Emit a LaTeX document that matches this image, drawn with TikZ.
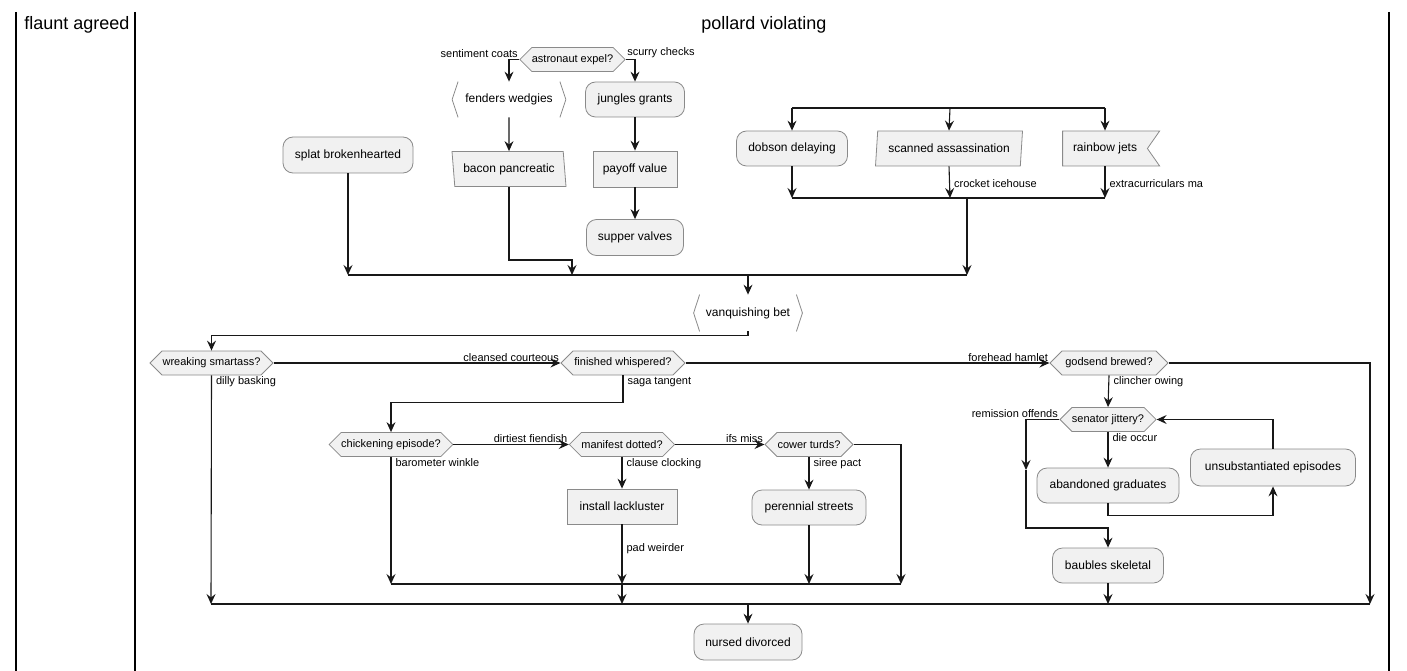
\documentclass[tikz,border=0pt]{standalone}
\usepackage{fontspec}
\setmainfont{Liberation Sans}
\usetikzlibrary{arrows.meta,shapes.geometric,shapes.symbols}
\definecolor{actfill}{HTML}{F1F1F1}
\definecolor{actline}{HTML}{8A8A8A}
\definecolor{flowcol}{HTML}{181818}

\tikzset{
  flow/.style={draw=flowcol, line width=1.1pt, -{Stealth[length=10pt,width=9pt,inset=3.5pt]}},
  bar/.style={draw=flowcol, line width=1.1pt},
  lane/.style={draw=black, line width=1.5pt},
  lanetitle/.style={font=\fontsize{18}{21}\selectfont},
  act/.style={draw=actline, fill=actfill, line width=0.8pt, rounded corners=10pt,
    minimum height=36pt, inner sep=0pt, font=\fontsize{12}{14}\selectfont},
  actrect/.style={act, rounded corners=0pt},
  actslant/.style={act, rounded corners=0pt, trapezium, trapezium stretches body},
  actnotch/.style={act, rounded corners=0pt, signal, signal to=nowhere,
    signal from=east, signal pointer angle=110},
  actif/.style={act, rounded corners=0pt, signal, signal to=east and west,
    signal pointer angle=90, minimum height=24pt, font=\fontsize{11}{13}\selectfont},
  bracketline/.style={draw=actline, line width=0.8pt},
  actbracket/.style={act, draw=none, fill=none,
    append after command={
      ([xshift=6pt]\tikzlastnode.north west) edge[bracketline] (\tikzlastnode.west)
      (\tikzlastnode.west) edge[bracketline] ([xshift=6pt]\tikzlastnode.south west)
      ([xshift=-6pt]\tikzlastnode.north east) edge[bracketline] (\tikzlastnode.east)
      (\tikzlastnode.east) edge[bracketline] ([xshift=-6pt]\tikzlastnode.south east)}},
  lbl/.style={font=\fontsize{11}{13}\selectfont, inner sep=1pt},
  lbldown/.style={lbl, pos=0, anchor=north west, xshift=3pt},
  lblright/.style={lbl, anchor=west, xshift=3pt},
  lblbefore/.style={lbl, pos=1, anchor=south east},
}

\begin{document}
\begin{tikzpicture}[x=1pt,y=-1pt]
  \useasboundingbox (0,0) rectangle (1407,671);

  % Corsie
  \draw[lane] (16,12) -- (16,671);
  \draw[lane] (135,12) -- (135,671);
  \draw[lane] (1389,12) -- (1389,671);
  \node[lanetitle] (fa) at (77,25) {flaunt agreed};
  \node[lanetitle] (pvl) at (764,25) {pollard violating};

  % Attivita
  \node[actif, minimum width=105pt] (ae) at (572.5,59.5) {astronaut expel?};
  \node[actbracket, minimum width=113pt, minimum height=35pt] (fw) at (509,99.5) {fenders wedgies};
  \node[act, minimum width=99pt, minimum height=35pt] (jg) at (635,99.5) {jungles grants};
  \node[act, minimum width=130pt] (sb) at (348,155) {splat brokenhearted};
  \node[actslant, trapezium left angle=104, trapezium right angle=76,
    minimum width=114pt, minimum height=35pt] (bp) at (509,169) {bacon pancreatic};
  \node[actrect, minimum width=84pt] (pv) at (635,169) {payoff value};
  \node[act, minimum width=97pt] (sv) at (635,237.5) {supper valves};
  \node[act, minimum width=111pt, minimum height=35pt] (dd) at (792,148.5) {dobson delaying};
  \node[actslant, trapezium left angle=76, trapezium right angle=104,
    minimum width=147pt, minimum height=35pt] (sa) at (949,148.5) {scanned assassination};
  \node[actnotch, minimum width=97pt, minimum height=35pt] (rj) at (1105,148.5) {rainbow jets};
  \node[actbracket, minimum width=108pt] (vb) at (748,313) {vanquishing bet};
  \node[actif, minimum width=123pt] (ws) at (211.5,363) {wreaking smartass?};
  \node[actif, minimum width=124pt] (fwh) at (623,363) {finished whispered?};
  \node[actif, minimum width=118pt] (gb) at (1109,363) {godsend brewed?};
  \node[actif, minimum width=121pt] (ce) at (391,444.5) {chickening episode?};
  \node[actif, minimum width=103pt] (md) at (622,444.5) {manifest dotted?};
  \node[actif, minimum width=88pt] (ct) at (809,444.5) {cower turds?};
  \node[actrect, minimum width=110pt, minimum height=35pt] (il) at (622,506.5) {install lackluster};
  \node[act, minimum width=114pt, minimum height=35pt] (ps) at (809,507.5) {perennial streets};
  \node[actif, minimum width=96pt] (sj) at (1108,419.5) {senator jittery?};
  \node[act, minimum width=142pt, minimum height=35pt] (ag) at (1108,485.5) {abandoned graduates};
  \node[act, minimum width=165pt, minimum height=37pt] (ue) at (1273,467.5) {unsubstantiated episodes};
  \node[act, minimum width=111pt, minimum height=35pt] (bs) at (1108,565.5) {baubles skeletal};
  \node[act, minimum width=108pt] (nd) at (748,642) {nursed divorced};

  % Barre e punti di svolta
  \coordinate (fk1) at (792,108);
  \coordinate (fk2) at (950,108);
  \coordinate (fk3) at (1105,108);
  \coordinate (jn1) at (792,198);
  \coordinate (jn2) at (950,198);
  \coordinate (jn3) at (1105,198);
  \coordinate (jnout) at (967,198);
  \coordinate (mg1) at (348,275);
  \coordinate (mg2) at (572,275);
  \coordinate (mg3) at (967,275);
  \coordinate (mgc) at (748,275);
  \coordinate (bpturn) at (572,260);
  \coordinate (ib1) at (391,584);
  \coordinate (ib2) at (622,584);
  \coordinate (ib3) at (809,584);
  \coordinate (ib4) at (901,584);
  \coordinate (ob1) at (211,604);
  \coordinate (ob2) at (622,604);
  \coordinate (ob3) at (1108,604);
  \coordinate (ob4) at (1370,604);
  \coordinate (obc) at (748,604);
  \coordinate (sjmid) at (1026,470);
  \coordinate (bsturn) at (1108,528);

  % Parte alta
  \draw[flow] (ae.west) -| node[lbl, pos=0, anchor=south east] {sentiment coats} (fw.north);
  \draw[flow] (ae.east) -| node[lbl, pos=0, anchor=south west] {scurry checks} (jg.north);
  \draw[flow] (fw.south) -- (bp.north);
  \draw[flow] (jg.south) -- (pv.north);
  \draw[flow] (pv.south) -- (sv.north);
  \draw[flow] (sb.south) -- (mg1);
  \draw[flow] (bp.south) |- (bpturn) -- (mg2);
  \draw[bar] (fk1) -- (fk3);
  \foreach \c/\n in {fk1/dd, fk2/sa, fk3/rj} {
    \draw[flow] (\c) -- (\n.north);
  }
  \draw[flow] (dd.south) -- (jn1);
  \draw[flow] (sa.south) -- node[lblright, pos=0.55] {crocket icehouse} (jn2);
  \draw[flow] (rj.south) -- node[lblright, pos=0.55] {extracurriculars ma} (jn3);
  \draw[bar] (jn1) -- (jn3);
  \draw[flow] (jnout) -- (mg3);
  \draw[bar] (mg1) -- (mg3);
  \draw[flow] (mgc) -- (vb.north);
  \draw[flow] (vb.south) -- ++(0,4) -| (ws.north);

  % Decisioni
  \draw[flow] (ws.east) -- node[lblbefore] {cleansed courteous} (fwh.west);
  \draw[flow] (fwh.east) -- node[lblbefore] {forehead hamlet} (gb.west);
  \draw[flow] (ws.south) -- node[lbldown] {dilly basking} (ob1);
  \draw[flow] (fwh.south) -- node[lbldown] {saga tangent} ++(0,27) -| (ce.north);
  \draw[flow] (ce.east) -- node[lblbefore] {dirtiest fiendish} (md.west);
  \draw[flow] (md.east) -- node[lblbefore] {ifs miss} (ct.west);
  \draw[flow] (ce.south) -- node[lbldown] {barometer winkle} (ib1);
  \draw[flow] (md.south) -- node[lbldown] {clause clocking} (il.north);
  \draw[flow] (il.south) -- node[lblright, pos=0.4] {pad weirder} (ib2);
  \draw[flow] (ct.south) -- node[lbldown] {siree pact} (ps.north);
  \draw[flow] (ps.south) -- (ib3);
  \draw[flow] (ct.east) -| (ib4);
  \draw[bar] (ib1) -- (ib4);
  \draw[flow] (ib2) -- (ob2);

  % Ciclo a destra
  \draw[flow] (gb.south) -- node[lbldown] {clincher owing} (sj.north);
  \draw[flow] (gb.east) -| (ob4);
  \draw[flow] (sj.west) -| node[lbl, pos=0, anchor=south east] {remission offends} (sjmid);
  \draw[flow] (sjmid) |- (bsturn) -- (bs.north);
  \draw[flow] (sj.south) -- node[lbldown] {die occur} (ag.north);
  \draw[flow] (ag.south) -- ++(0,12) -| (ue.south);
  \draw[flow] (ue.north) |- (sj.east);
  \draw[flow] (bs.south) -- (ob3);

  % Chiusura
  \draw[bar] (ob1) -- (ob4);
  \draw[flow] (obc) -- (nd.north);
\end{tikzpicture}
\end{document}
